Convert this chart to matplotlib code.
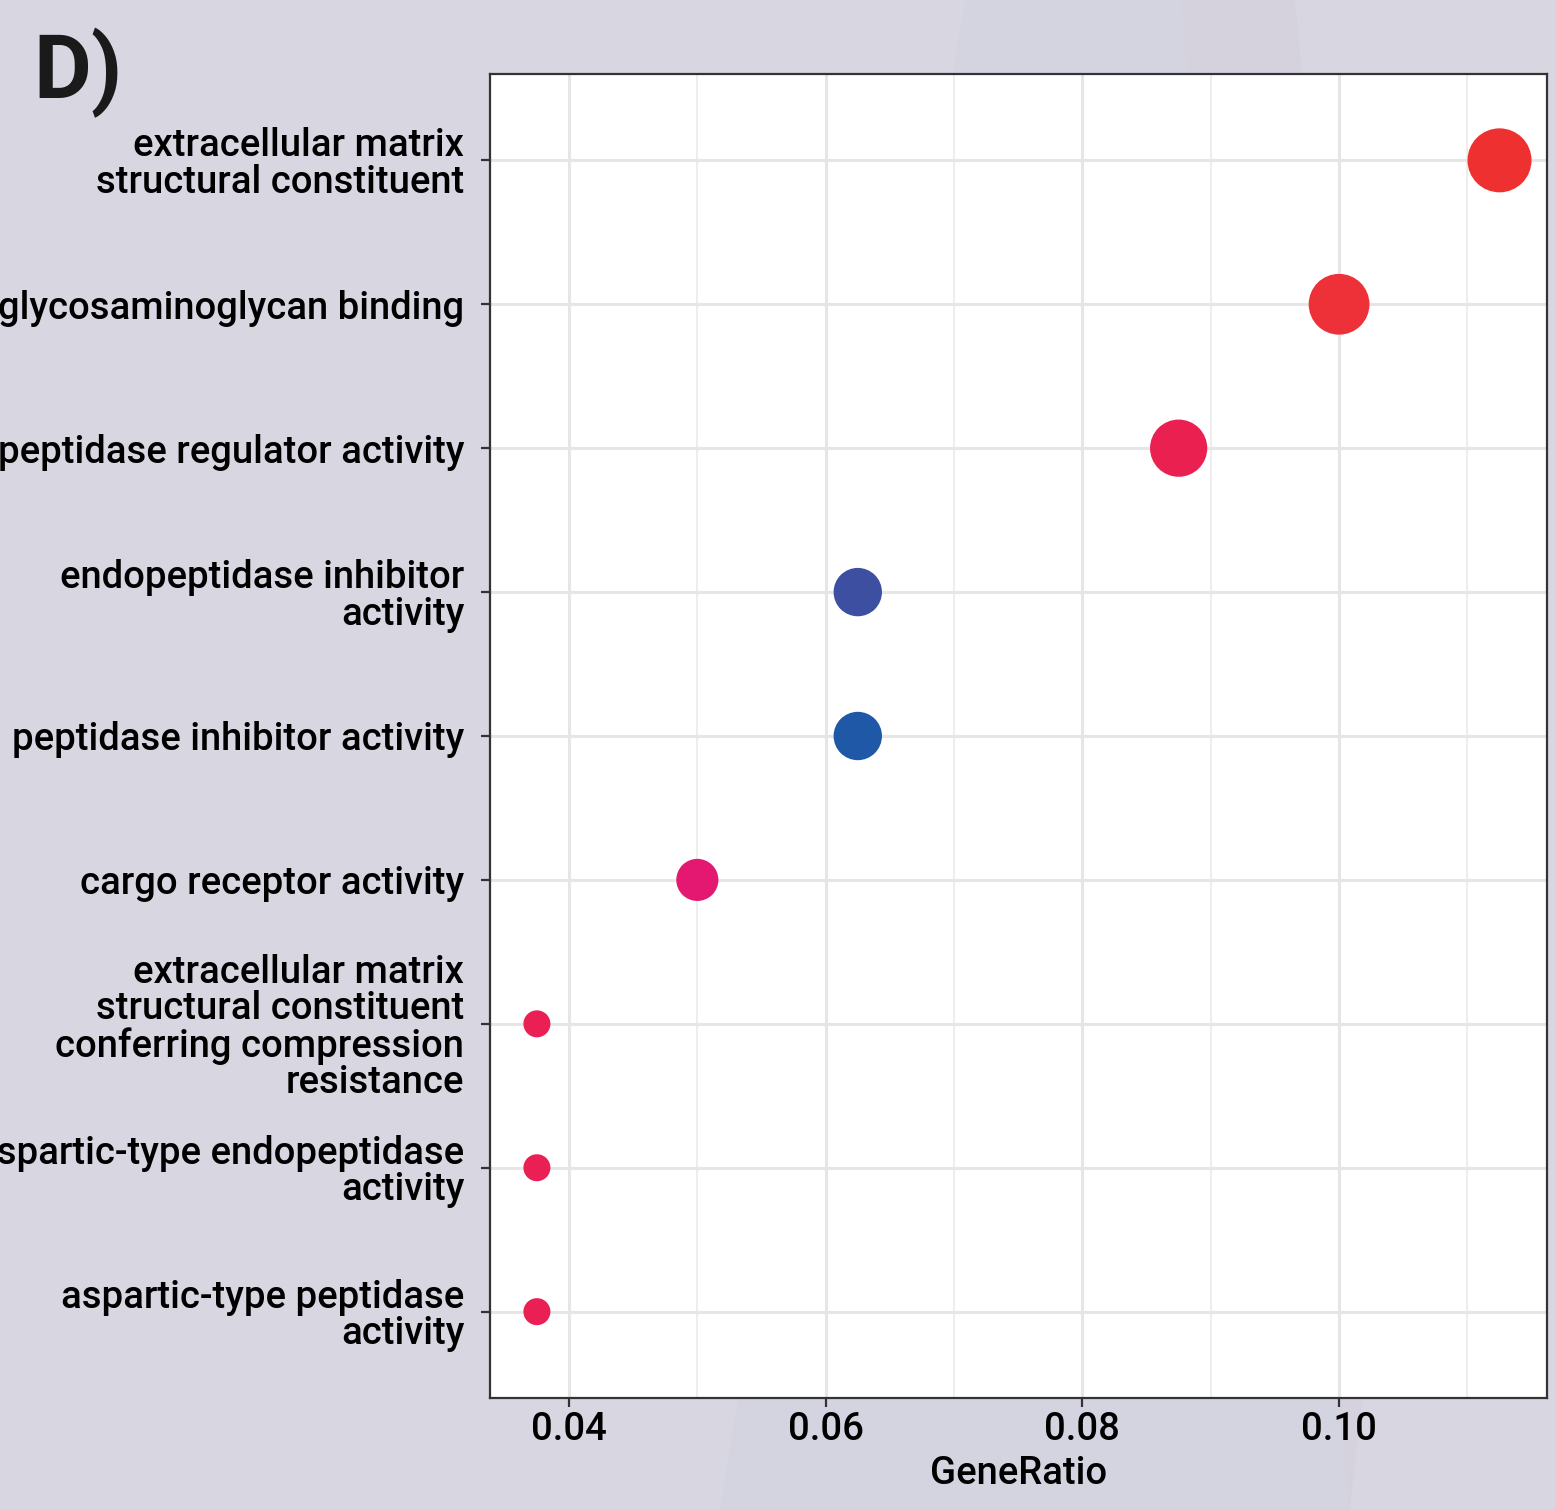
import numpy as np
import matplotlib
matplotlib.use("Agg")
import matplotlib.pyplot as plt
from matplotlib.patches import Polygon

# GO terms (top to bottom as shown)
terms = [
    "extracellular matrix\nstructural constituent",
    "glycosaminoglycan binding",
    "peptidase regulator activity",
    "endopeptidase inhibitor\nactivity",
    "peptidase inhibitor activity",
    "cargo receptor activity",
    "extracellular matrix\nstructural constituent\nconferring compression\nresistance",
    "aspartic-type endopeptidase\nactivity",
    "aspartic-type peptidase\nactivity",
]
gene_ratio = [0.1125, 0.100, 0.0875, 0.0625, 0.0625, 0.050, 0.0375, 0.0375, 0.0375]
gene_count = [9, 8, 7, 5, 5, 4, 3, 3, 3]
point_colors = ["#ee3030", "#ee3038", "#ea2050", "#3c4fa0", "#1e58a6",
                "#e41870", "#ea2055", "#ea2055", "#ea2055"]
x_ticks = [0.04, 0.06, 0.08, 0.10]
x_minor = [0.05, 0.07, 0.09, 0.11]

bg = "#d8d6e1"
font = "Roboto"

# size scale like ggplot's area palette: diameter in px
d_min, d_max = 27, 64
cnt = np.array(gene_count, dtype=float)
t = (cnt - cnt.min()) / (cnt.max() - cnt.min())
diam_px = d_min + (d_max - d_min) * np.sqrt(t)
sizes = (diam_px * 0.72) ** 2

W, H = 1555, 1509
fig = plt.figure(figsize=(W / 100, H / 100), dpi=100, facecolor=bg)

# faint background shading
fig.patches.append(Polygon([(965 / W, 1), (1180 / W, 1), (1350 / W, 0), (720 / W, 0)],
                           closed=True, transform=fig.transFigure,
                           facecolor="#d3d4e0", edgecolor="none", zorder=-5))
fig.patches.append(Polygon([(1180 / W, 1), (1295 / W, 1), (1400 / W, 0.3), (1350 / W, 0)],
                           closed=True, transform=fig.transFigure,
                           facecolor="#d5d2de", edgecolor="none", zorder=-5))

ax = fig.add_axes([490 / W, (H - 1398) / H, (1547 - 490) / W, (1398 - 74) / H])
ax.set_facecolor("white")

n = len(terms)
ypos = np.arange(n, 0, -1)

ax.scatter(gene_ratio, ypos, s=sizes, c=point_colors, edgecolors="none", zorder=3)

ax.set_xlim(0.033845, 0.1162)
ax.set_ylim(0.4, n + 0.6)

ax.set_xticks(x_ticks)
ax.set_xticklabels([f"{v:.2f}" for v in x_ticks])
ax.set_xticks(x_minor, minor=True)
ax.set_yticks(ypos)
ax.set_yticklabels(terms, linespacing=0.98)

ax.grid(True, which="major", color="#e6e6e6", linewidth=2.2, zorder=0)
ax.grid(True, which="minor", axis="x", color="#ebebeb", linewidth=1.2, zorder=0)
ax.set_axisbelow(True)

for s in ax.spines.values():
    s.set_color("#333333")
    s.set_linewidth(1.6)

ax.tick_params(axis="both", which="major", length=6.5, width=1.6, color="#333333",
               labelsize=27.5, labelcolor="black", pad=12)
ax.tick_params(axis="x", which="major", pad=3)
ax.tick_params(axis="x", which="minor", length=0)
for lab in ax.get_xticklabels() + ax.get_yticklabels():
    lab.set_fontfamily(font)
    lab.set_fontweight("medium")

ax.set_xlabel("GeneRatio", fontsize=27.5, fontfamily=font, fontweight="medium", labelpad=5)

fig.text(33 / W, 1 - 98 / H, "D)", fontsize=64, fontweight="bold",
         fontfamily=font, color="#1a1a1a", ha="left", va="baseline")

fig.savefig("out.png", dpi=100, facecolor=bg)
